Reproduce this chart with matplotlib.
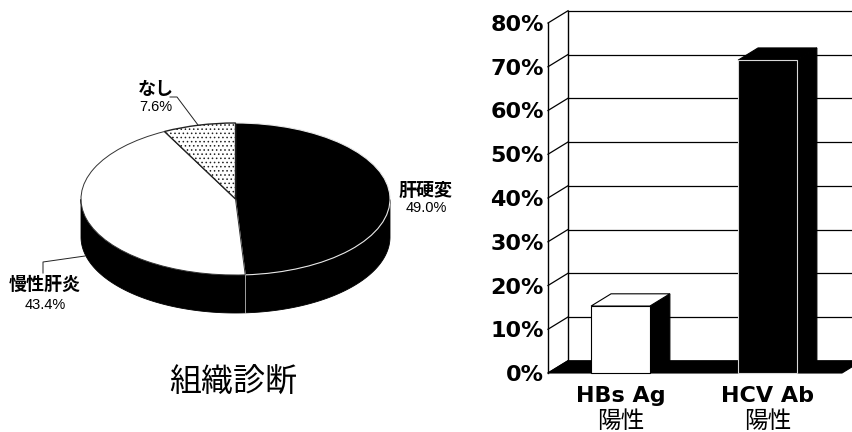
import numpy as np
import matplotlib
matplotlib.use("Agg")
import matplotlib.pyplot as plt

W, H = 853, 432
CJK = ["Noto Sans CJK JP", "DejaVu Sans"]
plt.rcParams["hatch.linewidth"] = 0.6

# Histological diagnosis shares
diagnosis_names = ["肝硬変", "慢性肝炎", "なし"]
diagnosis_values = [49.0, 43.4, 7.6]
diagnosis_title = "組織診断"

# Antigen / antibody positive rates
marker_names = ["HBs Ag", "HCV Ab"]
marker_suffix = ["陽性", "陽性"]
marker_values = [15.3, 71.5]
percent_ticks = [0, 10, 20, 30, 40, 50, 60, 70, 80]


def px_axes(left, top, right, bottom):
    return fig.add_axes([left / W, 1 - bottom / H, (right - left) / W, (bottom - top) / H])


def fx(x):
    return x / W


def fy(y):
    return 1 - y / H


fig = plt.figure(figsize=(W / 100, H / 100), dpi=100, facecolor="white")

# ---------- tilted pie ----------
pie_ax = px_axes(81, 123, 390, 275)
pie_depth = 0.5
pie_ax.set_zorder(1)

starts = 90 - 3.6 * np.concatenate([[0], np.cumsum(diagnosis_values)[:-1]])
ends = starts - 3.6 * np.array(diagnosis_values)

# Visible rim: only the part of each slice on the lower half of the ellipse
for a0, a1 in zip(starts, ends):
    t = np.radians(np.linspace(a0, a1, 200))
    t = t[np.sin(t) <= 0]
    if t.size < 2:
        continue
    xs, ys = np.cos(t), np.sin(t)
    pie_ax.fill(np.r_[xs, xs[::-1]], np.r_[ys, ys[::-1] - pie_depth],
                fc="black", ec="black", lw=0.6, clip_on=False, zorder=1)

wedges, _ = pie_ax.pie(diagnosis_values, startangle=90, counterclock=False,
                       colors=["black", "white", "white"], radius=1,
                       wedgeprops=dict(edgecolor="black", linewidth=0.7))
for w in wedges:
    w.set_clip_on(False)
    w.set_zorder(3)
wedges[0].set_edgecolor("#e8e8e8")
wedges[0].set_linewidth(0.8)
wedges[1].set_edgecolor("#333333")
wedges[2].set_hatch("....")
wedges[2].set_edgecolor("#222222")
wedges[2].set_linewidth(1.0)
pie_ax.set_aspect("auto")
pie_ax.set_xlim(-1, 1)
pie_ax.set_ylim(-1, 1)

# Boundary between the two large slices continues down the rim
t_split = np.radians(ends[0])
pie_ax.plot([np.cos(t_split)] * 2, [np.sin(t_split), np.sin(t_split) - pie_depth],
            color="#dddddd", lw=0.5, clip_on=False, zorder=2)

# Slice labels with leader lines
label_spots = [(426, 190, 208), (45, 284, 305), (156, 90, 107)]
for name, value, (x, y1, y2) in zip(diagnosis_names, diagnosis_values, label_spots):
    fig.text(fx(x), fy(y1), name, family=CJK, fontsize=13, fontweight="bold",
             ha="center", va="center")
    fig.text(fx(x), fy(y2), f"{value:.1f}%", family="Liberation Sans", fontsize=10.5,
             ha="center", va="center")

overlay = px_axes(0, 0, W, H)
overlay.set_xlim(0, W)
overlay.set_ylim(H, 0)
overlay.axis("off")
overlay.set_zorder(2)
overlay.plot([43, 43, 85], [273, 262, 256], color="#222222", lw=0.7)
overlay.plot([170, 177, 198], [97, 97, 125], color="#222222", lw=0.7)

fig.text(fx(233.5), fy(382), diagnosis_title, family=CJK, fontsize=23,
         ha="center", va="center")

# ---------- 3D-style bars ----------
ax = px_axes(548, 23, 842, 373)
x_left, x_right = -0.493, 1.507
ax.set_xlim(x_left, x_right)
ax.set_ylim(0, 80)
for s in ax.spines.values():
    s.set_visible(False)
dx, dy = 0.136, 2.8
bar_width = 0.4
positions = np.arange(len(marker_values))

# Back wall gridlines, side wall ties and the two vertical edges
for v in percent_ticks:
    ax.plot([x_left + dx, x_right + dx], [v + dy, v + dy], color="black", lw=0.9,
            clip_on=False, zorder=1)
    ax.plot([x_left, x_left + dx], [v, v + dy], color="black", lw=0.9,
            clip_on=False, zorder=1)
ax.plot([x_left, x_left], [0, 80], color="black", lw=1.0, clip_on=False, zorder=1)
ax.plot([x_left + dx] * 2, [dy, 80 + dy], color="black", lw=1.0, clip_on=False, zorder=1)

# Floor
ax.fill([x_left, x_right, x_right + dx, x_left + dx], [0, 0, dy, dy],
        fc="black", ec="black", lw=0.8, clip_on=False, zorder=2)

face_colors = ["white", "black"]
edge_colors = ["black", "#d8d8d8"]
top_colors = ["white", "black"]
bars = ax.bar(positions, marker_values, width=bar_width, color=face_colors,
              edgecolor=edge_colors, linewidth=0.8, zorder=4, clip_on=False)
for bar, value, top_c in zip(bars, marker_values, top_colors):
    x0, x1 = bar.get_x(), bar.get_x() + bar.get_width()
    ax.fill([x1, x1 + dx, x1 + dx, x1], [0, dy, value + dy, value],
            fc="black", ec="black", lw=0.8, clip_on=False, zorder=3)
    ax.fill([x0, x1, x1 + dx, x0 + dx], [value, value, value + dy, value + dy],
            fc=top_c, ec="black", lw=0.8, clip_on=False, zorder=3)

ax.set_yticks(percent_ticks, [f"{v}%" for v in percent_ticks],
              family="DejaVu Sans", fontsize=16, fontweight="bold")
ax.set_xticks(positions, marker_names, family="DejaVu Sans", fontsize=16, fontweight="bold")
ax.tick_params(axis="both", length=0)
ax.tick_params(axis="y", pad=3)
ax.tick_params(axis="x", pad=9)

# Second line of each category label, larger than the first
for pos, suffix in zip(positions, marker_suffix):
    ax.annotate(suffix, xy=(pos, 0), xycoords=("data", "axes fraction"),
                xytext=(0, -48), textcoords="offset pixels", family=CJK, fontsize=17,
                ha="center", va="center", annotation_clip=False)

fig.savefig("out.png", dpi=100, facecolor="white")
